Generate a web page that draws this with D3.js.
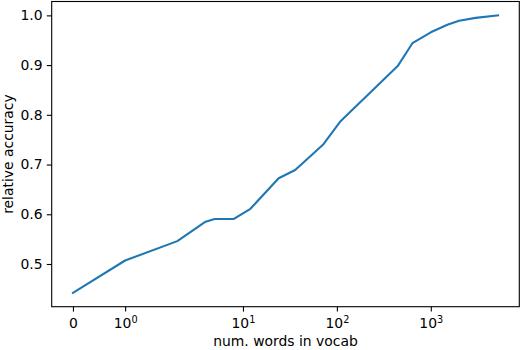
<!DOCTYPE html>
<html>
<head>
<meta charset="utf-8">
<script src="https://cdn.jsdelivr.net/npm/d3@7"></script>
<style>
  body { margin: 0; background: #fff; }
  svg text { font-family: "DejaVu Sans", sans-serif; fill: #000; }
</style>
</head>
<body>
<div id="chart"></div>
<script>
// vocab sizes (x) and relative accuracy (y)
const vocabSizes = [0, 1, 2, 4, 5, 8, 12, 24, 36, 72, 108, 444, 637, 1000, 1500, 2000, 3000, 5200];
const relAccuracy = [0.442, 0.507, 0.546, 0.585, 0.5905, 0.5905, 0.611, 0.6725, 0.689, 0.741, 0.786, 0.898, 0.944, 0.966, 0.981, 0.989, 0.995, 1.0];
const xTickValues = [0, 1, 10, 100, 1000];
const xTickExps = [null, 0, 1, 2, 3];
const yTickValues = [0.5, 0.6, 0.7, 0.8, 0.9, 1.0];

const width = 524, height = 350;
const margin = {top: 1.5, right: 4.7, bottom: 43.3, left: 51.7};
const fontSize = 13.9, tickLen = 4.9;

// matplotlib-style symlog, linthresh 2, linscale 1, base 10
const linthresh = 2, linscaleAdj = 1 / (1 - 1 / 10);
const symlog = function(v){
    const a = Math.abs(v);
    if (a <= linthresh) return v * linscaleAdj;
    return Math.sign(v) * linthresh * (linscaleAdj + Math.log10(a / linthresh));
};

const svg = d3.select("#chart").append("svg")
    .attr("width", width)
    .attr("height", height);

const tMin = d3.min(vocabSizes, symlog), tMax = d3.max(vocabSizes, symlog),
      tPad = 0.05 * (tMax - tMin);
const yMin = d3.min(relAccuracy), yMax = d3.max(relAccuracy),
      yPad = 0.05 * (yMax - yMin);

const x = d3.scaleLinear()
    .domain([tMin - tPad, tMax + tPad])
    .range([margin.left, width - margin.right]);

const y = d3.scaleLinear()
    .domain([yMin - yPad, yMax + yPad])
    .range([height - margin.bottom, margin.top]);

const plotBottom = height - margin.bottom;

// line
const line = d3.line()
    .x((d, i) => x(symlog(vocabSizes[i])))
    .y(d => y(d));

svg.append("path")
    .datum(relAccuracy)
    .attr("fill", "none")
    .attr("stroke", "#1f77b4")
    .attr("stroke-width", 2.08)
    .attr("stroke-linejoin", "round")
    .attr("stroke-linecap", "square")
    .attr("d", line);

// x axis
const xAxis = svg.append("g")
    .attr("transform", `translate(0,${plotBottom})`)
    .call(d3.axisBottom(x)
        .tickValues(xTickValues.map(symlog))
        .tickSize(tickLen)
        .tickFormat(""));
xAxis.select(".domain").remove();
xAxis.selectAll(".tick line").attr("stroke", "#000").attr("stroke-width", 1.1);
xAxis.selectAll(".tick").each(function(d, i){
    const t = d3.select(this).append("text")
        .attr("y", 21.5)
        .attr("text-anchor", "middle")
        .attr("font-size", fontSize);
    if (xTickExps[i] === null) {
        t.text(String(xTickValues[i]));
    } else {
        t.append("tspan").text("10");
        t.append("tspan")
            .attr("font-size", fontSize * 0.7)
            .attr("dy", -5.6)
            .text(String(xTickExps[i]));
    }
});

// y axis
const yAxis = svg.append("g")
    .attr("transform", `translate(${margin.left},0)`)
    .call(d3.axisLeft(y)
        .tickValues(yTickValues)
        .tickSize(tickLen)
        .tickPadding(4.2)
        .tickFormat(d3.format(".1f")));
yAxis.select(".domain").remove();
yAxis.selectAll(".tick line").attr("stroke", "#000").attr("stroke-width", 1.1);
yAxis.selectAll(".tick text")
    .attr("font-size", fontSize)
    .attr("font-family", "DejaVu Sans")
    .attr("fill", "#000");

// frame
svg.append("rect")
    .attr("x", margin.left)
    .attr("y", margin.top)
    .attr("width", width - margin.left - margin.right)
    .attr("height", plotBottom - margin.top)
    .attr("fill", "none")
    .attr("stroke", "#000")
    .attr("stroke-width", 1.1);

// axis labels
svg.append("text")
    .attr("x", (margin.left + width - margin.right) / 2)
    .attr("y", 346)
    .attr("text-anchor", "middle")
    .attr("font-size", fontSize)
    .text("num. words in vocab");

svg.append("text")
    .attr("transform", `translate(13,${(margin.top + plotBottom) / 2}) rotate(-90)`)
    .attr("text-anchor", "middle")
    .attr("font-size", fontSize)
    .text("relative accuracy");
</script>
</body>
</html>
